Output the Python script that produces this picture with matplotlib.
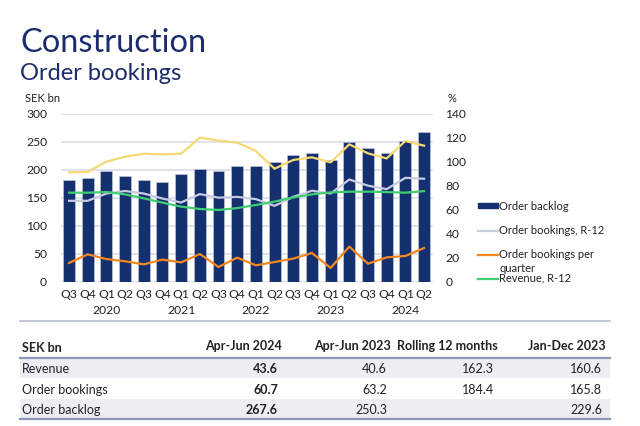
import matplotlib
matplotlib.use('Agg')
import matplotlib.pyplot as plt
import matplotlib.patches as mpatches
from matplotlib.lines import Line2D
import matplotlib.transforms as mtransforms
import numpy as np

plt.rcParams['font.family'] = ['Lato', 'DejaVu Sans']

# Data, Q3 2019 .. Q2 2024
quarters = ['Q3', 'Q4', 'Q1', 'Q2', 'Q3', 'Q4', 'Q1', 'Q2', 'Q3', 'Q4',
            'Q1', 'Q2', 'Q3', 'Q4', 'Q1', 'Q2', 'Q3', 'Q4', 'Q1', 'Q2']
year_labels = ['', '', '2020', '', '', '', '2021', '', '', '',
               '2022', '', '', '', '2023', '', '', '', '2024', '']
order_backlog = [183, 185, 199, 189, 183, 178, 193, 201, 198, 206.5,
                 207, 215, 226, 230, 217, 250.3, 239, 229.6, 251, 267.6]
bookings_r12 = [145, 145, 158, 162.5, 158, 149, 142, 157, 150.6, 152,
                148, 136, 152, 163, 158, 183, 172, 165.8, 186, 184.4]
bookings_q = [34, 49.4, 41, 37, 31.5, 40, 35, 50, 26.8, 43.5,
              29.8, 35.7, 41.7, 51.8, 25, 63.2, 32.7, 44, 46.4, 60.7]
revenue_r12 = [159.5, 159.5, 160.7, 156.5, 149.4, 141.7, 134.5, 130.4, 128.6, 132,
               137.5, 143.5, 151, 156.5, 160, 161.3, 161.3, 160.6, 159.5, 162.3]
book_to_bill = [91.4, 91.7, 100.3, 104.4, 106.9, 106.4, 106.9, 120.3, 117.8, 116.2,
                109.2, 94.4, 101.7, 103.9, 99.7, 114.7, 107.2, 103, 117.5, 113.6]

table_cols = ['Apr-Jun 2024', 'Apr-Jun 2023', 'Rolling 12 months', 'Jan-Dec 2023']
table_rows = ['Revenue', 'Order bookings', 'Order backlog']
revenue_tbl = ['43.6', '40.6', '162.3', '160.6']
bookings_tbl = ['60.7', '63.2', '184.4', '165.8']
backlog_tbl = ['267.6', '250.3', '', '229.6']

navy = '#15306f'
c_grey = '#c9cce0'
c_orange = '#f5871f'
c_green = '#3fcf72'
c_yellow = '#f6d973'
grid_c = '#dcdfea'
txt = '#222222'

W, H = 640, 426
def fx(x):
    return x / W
def fy(y):
    return 1 - y / H

fig = plt.figure(figsize=(6.4, 4.26), dpi=100)
fig.patch.set_facecolor('white')

fig.text(fx(20), fy(43), 'Construction', fontsize=23.5, color='#1c2c6c',
         ha='left', va='center')
fig.text(fx(20), fy(73), 'Order bookings', fontsize=17, color='#1c2c6c',
         ha='left', va='center')

ax = fig.add_axes([fx(61), fy(282), fx(433) - fx(61), fy(114) - fy(282)])
x = np.arange(len(quarters))
ax.bar(x, order_backlog, width=0.64, color=navy, edgecolor='#c9cde0',
       linewidth=0.4, zorder=2)
ax.plot(x, bookings_r12, color=c_grey, lw=1.6, zorder=3)
ax.plot(x, revenue_r12, color=c_green, lw=1.6, zorder=3)
ax.plot(x, bookings_q, color=c_orange, lw=1.6, zorder=3)
ax.set_ylim(0, 300)
ax.set_yticks(np.arange(0, 301, 50))
ax.set_xlim(-0.43, len(quarters) - 1 + 0.48)
ax.set_xticks(x)
ax.set_xticklabels(quarters)
ax.grid(axis='y', color=grid_c, lw=1.3)
ax.set_axisbelow(True)
for s in ax.spines.values():
    s.set_visible(False)
ax.tick_params(axis='both', length=0, labelsize=8.7, labelcolor=txt)
ax.tick_params(axis='y', pad=10)
ax.tick_params(axis='x', pad=5)

ax2 = ax.twinx()
ax2.plot(x, book_to_bill, color=c_yellow, lw=1.6, zorder=3)
ax2.set_ylim(0, 140)
ax2.set_yticks(np.arange(0, 141, 20))
for s in ax2.spines.values():
    s.set_visible(False)
ax2.tick_params(axis='y', length=0, labelsize=8.7, labelcolor=txt, pad=9)

trans = mtransforms.blended_transform_factory(ax.transData, fig.transFigure)
for i, yl in enumerate(year_labels):
    if yl:
        ax.text(i, fy(311), yl, transform=trans, ha='center', va='center',
                fontsize=8.7, color=txt)

fig.text(fx(25), fy(99), 'SEK bn', fontsize=8, color=txt, ha='left', va='center')
fig.text(fx(452), fy(99), '%', fontsize=8, color=txt, ha='center', va='center')

# legend (drawn by hand to follow the original spacing)
lx0, lx1, tx = 478, 498, 499
fig.add_artist(mpatches.Rectangle((fx(lx0), fy(208)), fx(lx1) - fx(lx0), 5 / H,
                                  transform=fig.transFigure, color=navy))
leg = [(231, c_grey, 'Order bookings, R-12'),
       (255, c_orange, 'Order bookings per'),
       (279, c_green, 'Revenue, R-12')]
fig.text(fx(tx), fy(206), 'Order backlog', fontsize=8, color=txt, va='center')
for yy, c, lab in leg:
    fig.add_artist(Line2D([fx(lx0), fx(lx1)], [fy(yy), fy(yy)], color=c, lw=1.6,
                          transform=fig.transFigure))
    fig.text(fx(tx), fy(yy - 1), lab, fontsize=8, color=txt, va='center')
fig.text(fx(tx), fy(268), 'quarter', fontsize=8, color=txt, va='center')

# table
fig.add_artist(Line2D([fx(20), fx(610)], [fy(321), fy(321)], color='#b9bdd3',
                      lw=1.2, transform=fig.transFigure))
fig.add_artist(mpatches.Rectangle((fx(20), fy(378)), fx(610) - fx(20), 19 / H,
                                  transform=fig.transFigure, color='#eceef4', lw=0))
fig.add_artist(mpatches.Rectangle((fx(20), fy(418)), fx(610) - fx(20), 19 / H,
                                  transform=fig.transFigure, color='#eceef4', lw=0))
fig.add_artist(Line2D([fx(20), fx(610)], [fy(358), fy(358)], color='#8f95b6',
                      lw=1.6, transform=fig.transFigure))
fig.add_artist(Line2D([fx(20), fx(610)], [fy(419), fy(419)], color='#8f95b6',
                      lw=1.6, transform=fig.transFigure))

col_right = [282, 391, 498, 606]
row_y = [369, 390, 410]
fig.text(fx(22), fy(348), 'SEK bn', fontsize=9, fontweight='bold', color=txt,
         va='center')
for cr, cn in zip(col_right, table_cols):
    fig.text(fx(cr), fy(346), cn, fontsize=9, fontweight='bold', color=txt,
             ha='right', va='center')
for ry, rn, vals in zip(row_y, table_rows, [revenue_tbl, bookings_tbl, backlog_tbl]):
    fig.text(fx(22), fy(ry), rn, fontsize=9, color=txt, va='center')
    for j, (cr, v) in enumerate(zip(col_right, vals)):
        fig.text(fx(cr - 4), fy(ry), v, fontsize=9, color=txt, ha='right',
                 va='center', fontweight='bold' if j == 0 else 'normal')

plt.savefig('out.png', dpi=100, facecolor='white')
plt.close()
